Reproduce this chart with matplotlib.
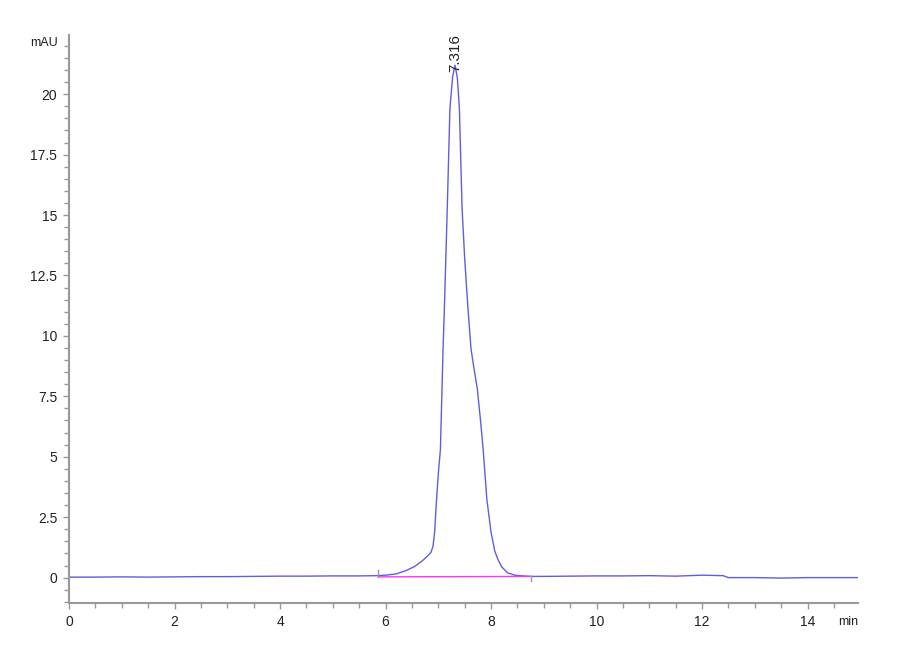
import matplotlib
matplotlib.use("Agg")
import matplotlib.pyplot as plt
from matplotlib.ticker import MultipleLocator, FuncFormatter

plt.rcParams['font.family'] = ['Liberation Sans', 'DejaVu Sans']

time_min = [0, 0.5, 1, 1.5, 2, 2.5, 3, 3.5, 4, 4.5, 5, 5.5, 5.85, 6.0, 6.2,
            6.4, 6.55, 6.7, 6.8, 6.86, 6.9, 6.93, 6.96, 7.0, 7.04, 7.09, 7.12,
            7.17, 7.22, 7.27, 7.316, 7.36, 7.40, 7.45, 7.50, 7.56, 7.62, 7.68,
            7.74, 7.80, 7.85, 7.92, 8.0, 8.07, 8.13, 8.2, 8.31, 8.45, 8.6, 8.75,
            9.0, 9.5, 10, 10.5, 11, 11.5, 12, 12.4, 12.5, 13, 13.5, 14, 14.5, 14.95]
signal_mau = [0.02, 0.02, 0.03, 0.02, 0.03, 0.04, 0.04, 0.05, 0.06, 0.06, 0.07,
              0.07, 0.08, 0.1, 0.15, 0.3, 0.46, 0.7, 0.9, 1.04, 1.3, 1.87, 3.0,
              4.3, 5.31, 9.46, 11.5, 15.3, 19.4, 20.7, 21.2, 20.7, 19.4, 15.3,
              13.2, 11.2, 9.46, 8.6, 7.8, 6.5, 5.31, 3.24, 1.87, 1.1, 0.75, 0.45,
              0.2, 0.1, 0.07, 0.05, 0.05, 0.06, 0.07, 0.07, 0.08, 0.06, 0.1,
              0.08, 0.0, 0.0, -0.02, 0.0, 0.0, 0.0]

peak_rt = 7.316
peak_height = 21.2
peak_label = "7.316"
baseline_start = (5.86, 0.03)
baseline_end = (8.75, 0.05)

fig = plt.figure(figsize=(9, 6.6), dpi=100)
ax = fig.add_axes([0.0767, 0.0864, 0.8763, 0.8606])

ax.plot(time_min, signal_mau, color='#5e5ee2', lw=1.0)
ax.plot([baseline_start[0], baseline_end[0]], [baseline_start[1], baseline_end[1]],
        color='#ff33ff', lw=1.0)
ax.plot([baseline_start[0], baseline_start[0]], [0.03, 0.3], color='#999999', lw=1.0)
ax.plot([baseline_end[0], baseline_end[0]], [0.08, -0.15], color='#999999', lw=1.0)

ax.text(peak_rt, peak_height - 0.3, peak_label, rotation=90, ha='center', va='bottom',
        fontsize=11, color='#222222')

ax.set_xlim(0, 14.95)
ax.set_ylim(-1.05, 22.45)
ax.xaxis.set_major_locator(MultipleLocator(2))
ax.xaxis.set_minor_locator(MultipleLocator(0.5))
ax.yaxis.set_major_locator(MultipleLocator(2.5))
ax.yaxis.set_minor_locator(MultipleLocator(0.5))
ax.yaxis.set_major_formatter(FuncFormatter(lambda v, p: f"{v:g}" if v < 22 else ""))

for s in ['top', 'right']:
    ax.spines[s].set_visible(False)
for s in ['left', 'bottom']:
    ax.spines[s].set_color('#999999')
    ax.spines[s].set_linewidth(1.5)

ax.tick_params(which='major', length=4.5, width=1, color='#999999', labelsize=10,
               labelcolor='#222222', pad=4)
ax.tick_params(which='minor', length=3.5, width=1, color='#999999')

fig.text(58 / 900, 1 - 43 / 660, 'mAU', ha='right', va='center', fontsize=9, color='#222222')
fig.text(858 / 900, 1 - 622 / 660, 'min', ha='right', va='center', fontsize=9, color='#222222')

fig.savefig('out.png', dpi=100)
